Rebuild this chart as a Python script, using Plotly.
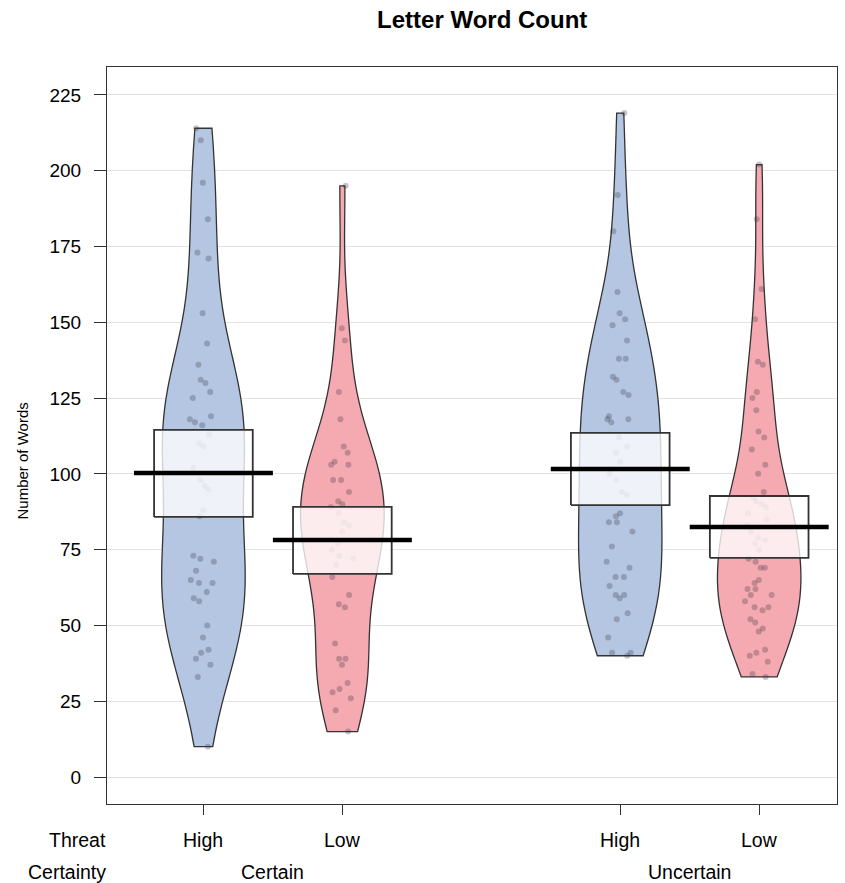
import numpy as np
import plotly.graph_objects as go

# ---- data ----
threat = ["High", "Low", "High", "Low"]
certainty = ["Certain", "Uncertain"]
positions = [1, 2, 4, 5]

words_high_certain = [214, 210, 196, 184, 173, 171, 153, 143, 136, 131, 130, 127, 125, 119, 118, 117, 116,
                      113, 110, 109, 102, 98, 96, 95, 88, 86, 73, 72, 71, 68, 65, 64, 64, 61, 59, 58, 50,
                      46, 42, 41, 39, 37, 33, 10]
words_low_certain = [195, 148, 144, 127, 118, 109, 107, 104, 103, 103, 98, 98, 94, 91, 90, 89, 87, 84, 83,
                     81, 77, 75, 73, 72, 70, 66, 60, 57, 56, 44, 39, 39, 37, 31, 29, 28, 26, 22, 15]
words_high_uncertain = [219, 192, 180, 160, 153, 151, 149, 144, 138, 138, 132, 131, 127, 126, 119, 118, 118,
                        117, 112, 109, 107, 104, 100, 98, 94, 93, 87, 86, 84, 84, 81, 76, 71, 69, 66, 66,
                        63, 60, 60, 59, 54, 52, 46, 41, 41, 40]
words_low_uncertain = [202, 184, 161, 151, 137, 136, 127, 125, 121, 114, 112, 108, 103, 100, 94, 92, 91, 90,
                       89, 87, 85, 83, 81, 79, 78, 77, 75, 72, 71, 69, 69, 65, 64, 62, 62, 60, 60, 58, 56,
                       56, 55, 52, 51, 49, 48, 42, 41, 40, 38, 34, 33]

means = [100.3, 78.2, 101.6, 82.5]
ci_low = [85.8, 67.0, 89.7, 72.3]
ci_high = [114.5, 89.1, 113.5, 92.7]

y_ticks = [0, 25, 50, 75, 100, 125, 150, 175, 200, 225]

groups = [words_high_certain, words_low_certain, words_high_uncertain, words_low_uncertain]
fills = ["#B4C6E2", "#F5AAB2", "#B4C6E2", "#F5AAB2"]


def nrd0(v):
    v = np.asarray(v, float)
    sd = v.std(ddof=1)
    q75, q25 = np.percentile(v, [75, 25])
    lo = min(sd, (q75 - q25) / 1.34)
    return 0.9 * lo * len(v) ** (-0.2)


fig = go.Figure()

for pos, vals, fc in zip(positions, groups, fills):
    fig.add_trace(go.Violin(
        x=[pos] * len(vals), y=vals,
        fillcolor=fc, opacity=1,
        line=dict(color="#333333", width=1.3),
        spanmode="hard", bandwidth=nrd0(vals),
        scalemode="width", width=0.6,
        points="all", pointpos=0, jitter=0.35,
        marker=dict(color="rgba(50,50,60,0.28)", size=6, line=dict(width=0)),
        box_visible=False, meanline_visible=False,
        showlegend=False, hoverinfo="skip",
    ))

box_hw = 0.355
line_hw = 0.5
for pos, m, lo, hi in zip(positions, means, ci_low, ci_high):
    fig.add_trace(go.Scatter(
        x=[pos - box_hw, pos + box_hw, pos + box_hw, pos - box_hw, pos - box_hw],
        y=[lo, lo, hi, hi, lo],
        mode="lines", fill="toself", fillcolor="rgba(255,255,255,0.78)",
        line=dict(color="#333333", width=1.8),
        showlegend=False, hoverinfo="skip",
    ))
    fig.add_trace(go.Scatter(
        x=[pos - line_hw, pos + line_hw], y=[m, m],
        mode="lines", line=dict(color="black", width=4.5),
        showlegend=False, hoverinfo="skip",
    ))

font_family = "Liberation Sans, Arial, sans-serif"
lab_size = 19.5
annotations = []
annotations.append(dict(text="Threat", xref="paper", yref="paper", x=0, y=0, xanchor="right",
                        yanchor="middle", yshift=-36, xshift=1, showarrow=False,
                        font=dict(size=lab_size, color="black")))
annotations.append(dict(text="Certainty", xref="paper", yref="paper", x=0, y=0, xanchor="right",
                        yanchor="middle", yshift=-68, xshift=1, showarrow=False,
                        font=dict(size=lab_size, color="black")))
for pos, t in zip(positions, threat):
    annotations.append(dict(text=t, xref="x", yref="paper", x=pos, y=0, xanchor="center",
                            yanchor="middle", yshift=-36, showarrow=False,
                            font=dict(size=lab_size, color="black")))
for i, c in enumerate(certainty):
    cx = (positions[2 * i] + positions[2 * i + 1]) / 2
    annotations.append(dict(text=c, xref="x", yref="paper", x=cx, y=0, xanchor="center",
                            yanchor="middle", yshift=-68, showarrow=False,
                            font=dict(size=lab_size, color="black")))
annotations.append(dict(text="Number of Words", xref="paper", yref="paper", x=0, y=0.5,
                        xanchor="center", yanchor="middle", xshift=-85, yshift=-26, textangle=-90,
                        showarrow=False, font=dict(size=15, color="black")))

fig.update_layout(
    width=845, height=883,
    margin=dict(l=107, r=8, t=67, b=79),
    paper_bgcolor="white", plot_bgcolor="white",
    font=dict(family=font_family, color="black", size=17),
    violinmode="overlay",
    title=dict(text="<b>Letter Word Count</b>", x=0.514, xref="paper", y=1 - 20 / 883,
               yanchor="middle", xanchor="center", font=dict(size=24, color="black")),
    annotations=annotations,
    showlegend=False,
)
fig.update_xaxes(
    range=[0.306, 5.56], tickvals=positions, ticktext=[""] * 4,
    ticks="outside", ticklen=10, tickcolor="#333333", tickwidth=1,
    showgrid=False, zeroline=False,
    showline=True, linecolor="#333333", linewidth=1.2, mirror=True,
)
fig.update_yaxes(
    range=[-8.9, 234.2], tickvals=y_ticks,
    ticks="outside", ticklen=12, tickcolor="#333333", tickwidth=1,
    ticklabelstandoff=9,
    showgrid=True, gridcolor="#E3E3E3", gridwidth=1, zeroline=False,
    showline=True, linecolor="#333333", linewidth=1.2, mirror=True,
    tickfont=dict(size=19),
)

fig.write_html("out.html")
